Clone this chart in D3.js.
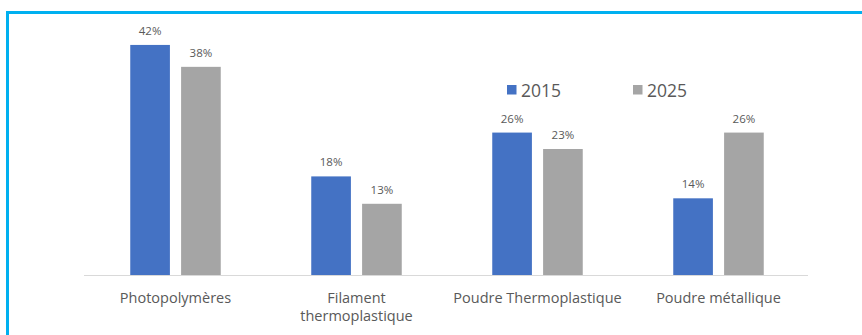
<!DOCTYPE html>
<html>
<head>
<meta charset="utf-8">
<script src="https://cdn.jsdelivr.net/npm/d3@7"></script>
<style>
  html, body { margin: 0; padding: 0; background: #fff; }
  svg { display: block; }
  text { font-family: "Open Sans", "Noto Sans", sans-serif; }
</style>
</head>
<body>
<svg id="chart" width="862" height="335"></svg>
<script>
const categories = ["Photopolymères", "Filament\nthermoplastique", "Poudre Thermoplastique", "Poudre métallique"];
const series = ["2015", "2025"];
const values2015 = [42, 18, 26, 14];
const values2025 = [38, 13, 23, 26];
const colors = ["#4472C4", "#A5A5A5"];

const svg = d3.select("#chart");
const W = 862, H = 335;

// Cyan frame
svg.append("rect")
  .attr("x", 7.5).attr("y", 12.5)
  .attr("width", W + 10).attr("height", H + 10)
  .attr("fill", "none")
  .attr("stroke", "#00B0F0")
  .attr("stroke-width", 3);

const baseY = 275;
const x0 = d3.scaleBand().domain(categories).range([85, 809])
  .paddingInner(0.5).paddingOuter(0.25);
const x1 = d3.scaleBand().domain(series).range([0, x0.bandwidth()])
  .paddingInner(0.22);
const y = d3.scaleLinear().domain([0, 45]).range([baseY, 28.5]);

const rows = categories.map((c, i) => ({
  cat: c,
  vals: [values2015[i], values2025[i]]
}));

const groups = svg.append("g").selectAll("g")
  .data(rows).join("g")
  .attr("transform", d => `translate(${x0(d.cat)},0)`);

groups.selectAll("rect")
  .data(d => d.vals.map((v, j) => ({ s: series[j], v, j })))
  .join("rect")
  .attr("x", d => x1(d.s))
  .attr("y", d => y(d.v))
  .attr("width", x1.bandwidth())
  .attr("height", d => y(0) - y(d.v))
  .attr("fill", d => colors[d.j]);

groups.selectAll("text.val")
  .data(d => d.vals.map((v, j) => ({ s: series[j], v, j })))
  .join("text")
  .attr("class", "val")
  .attr("x", d => x1(d.s) + x1.bandwidth() / 2)
  .attr("y", d => y(d.v) - 10)
  .attr("text-anchor", "middle")
  .attr("font-size", 11.5)
  .attr("fill", "#595959")
  .text(d => d.v + "%");

// Category axis
const axis = d3.axisBottom(x0).tickSize(0).tickFormat("");
const ax = svg.append("g").attr("transform", `translate(0,${baseY})`).call(axis);
ax.select(".domain").attr("stroke", "#D9D9D9").attr("stroke-width", 1.2)
  .attr("d", "M84,0.5H808");

ax.selectAll(".tick").each(function(d) {
  const t = d3.select(this).append("text")
    .attr("text-anchor", "middle")
    .attr("font-size", 14.5)
    .attr("fill", "#595959");
  d.split("\n").forEach((line, k) => {
    t.append("tspan").attr("x", 0).attr("y", 27.5 + k * 18.5).text(line);
  });
});

// Legend
const legendX = [507, 633];
const legend = svg.append("g").selectAll("g")
  .data(series).join("g")
  .attr("transform", (d, i) => `translate(${legendX[i]},85)`);
legend.append("rect")
  .attr("width", 9.5).attr("height", 9.5)
  .attr("fill", (d, i) => colors[i]);
legend.append("text")
  .attr("x", 14).attr("y", 11.5)
  .attr("font-size", 17.5)
  .attr("fill", "#595959")
  .text(d => d);
</script>
</body>
</html>
